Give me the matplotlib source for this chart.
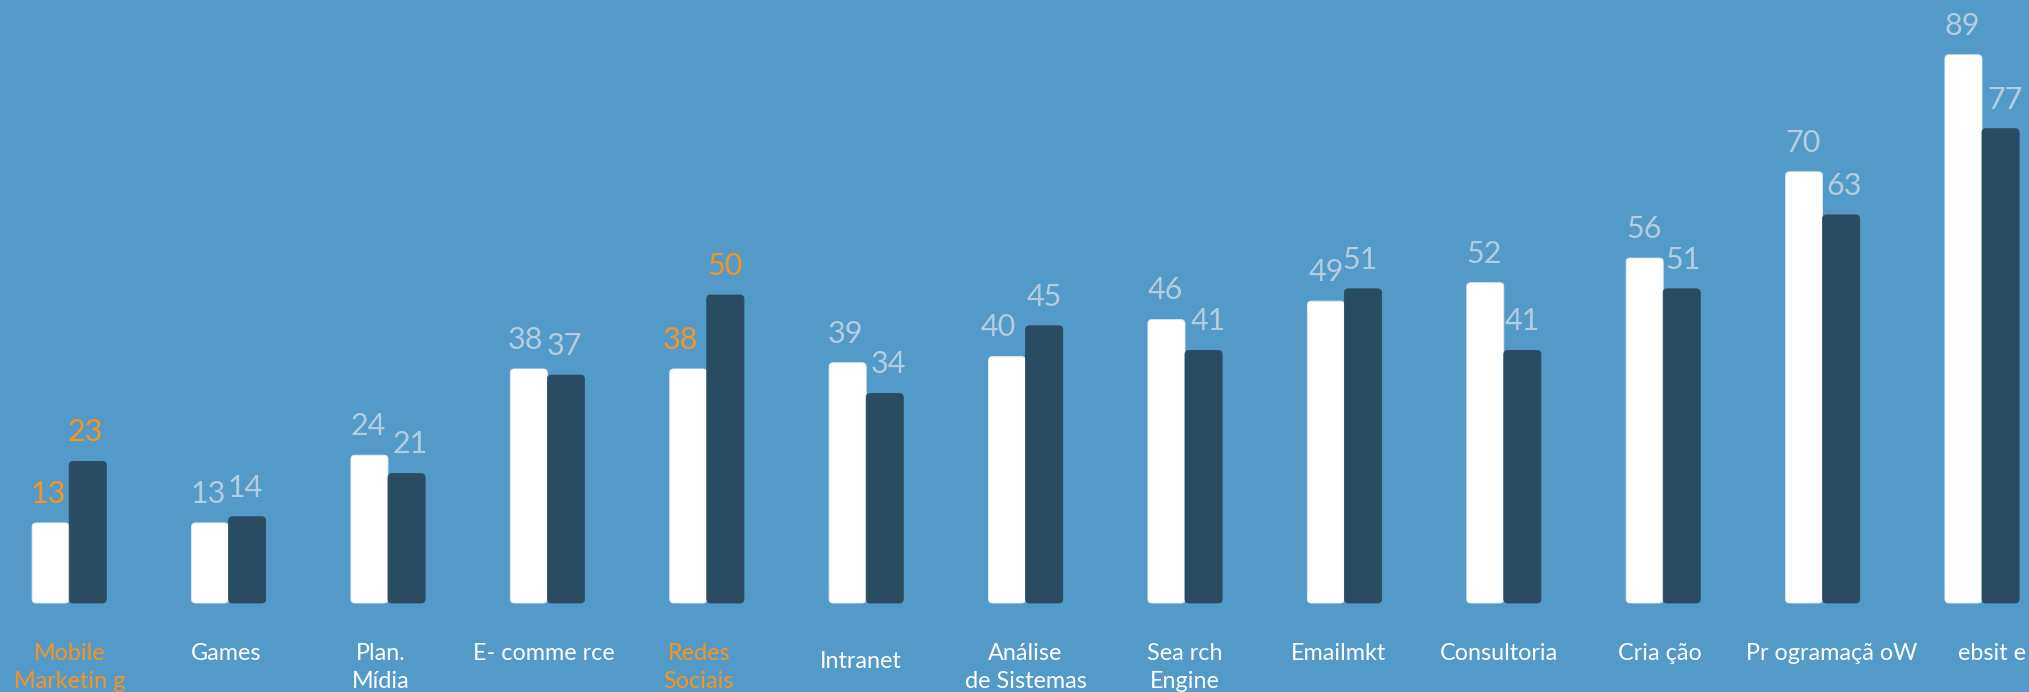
import matplotlib
matplotlib.use("Agg")
import matplotlib.pyplot as plt
from matplotlib.patches import FancyBboxPatch
import numpy as np

# ---- data ----
categories = ["Mobile\nMarketin g", "Games", "Plan.\nMídia", "E- comme rce", "Redes\nSociais",
              "Intranet", "Análise\nde Sistemas", "Sea rch\nEngine", "Emailmkt", "Consultoria",
              "Cria ção", "Pr ogramaçã oW", "ebsit e"]
series_white = [13, 13, 24, 38, 38, 39, 40, 46, 49, 52, 56, 70, 89]
series_dark = [23, 14, 21, 37, 50, 34, 45, 41, 51, 41, 51, 63, 77]
highlight = [True, False, False, False, True, False, False, False, False, False, False, False, False]

# ---- style ----
BG = "#539ac8"
WHITE = "#ffffff"
DARK = "#294c63"
VAL = "#b4cce0"
ORANGE = "#f7941d"
FONT = ["Lato", "DejaVu Sans"]

W, H = 2029, 692
fig = plt.figure(figsize=(W / 100, H / 100), dpi=100, facecolor=BG)
ax = fig.add_axes([0, 0, 1, 1])
ax.set_facecolor(BG)

px_group = 159.4
px_unit = 6.16
base_px = 603
x0_px = 69.2
ax.set_xlim(-x0_px / px_group, (W - x0_px) / px_group)
ax.set_ylim(-(H - base_px) / px_unit, base_px / px_unit)
ax.axis("off")

bw = 37.1 / px_group
x = np.arange(len(categories))
bars_w = ax.bar(x - bw / 2, series_white, width=bw, color=WHITE)
bars_d = ax.bar(x + bw / 2, series_dark, width=bw, color=DARK)

# replace plain rectangles with slightly rounded ones
radius_px = 4.0
aspect = px_group / px_unit
for bars, fc, ec in ((bars_w, WHITE, "#dfeaf3"), (bars_d, DARK, DARK)):
    for r in bars:
        bx, by, bwid, bh = r.get_x(), r.get_y(), r.get_width(), r.get_height()
        p = FancyBboxPatch((bx, by), bwid, bh,
                           boxstyle=f"round,pad=0,rounding_size={radius_px / px_group}",
                           mutation_aspect=aspect, facecolor=fc, edgecolor=ec, linewidth=0.6)
        ax.add_patch(p)
        r.set_visible(False)

# small horizontal nudges of value labels (pixels)
dx_white = [-2, -2, -1, -3, -8, -2, -9, -1, 0, -1, -1, -1, -1]
dx_dark = [-2, -2, 4, -2, 0, 4, 0, 5, -3, 0, 1, 3, 5]
for i in range(len(categories)):
    c = ORANGE if highlight[i] else VAL
    ax.annotate(str(series_white[i]), (x[i] - bw / 2, series_white[i]),
                xytext=(dx_white[i] * 0.72, 21), textcoords="offset points",
                ha="center", va="center", fontsize=22, color=c, family=FONT)
    ax.annotate(str(series_dark[i]), (x[i] + bw / 2, series_dark[i]),
                xytext=(dx_dark[i] * 0.72, 21), textcoords="offset points",
                ha="center", va="center", fontsize=22, color=c, family=FONT)

# category labels
dx_lab = [0, -2, -7, -4, -8, -5, 0, 0, -6, -5, -3, 9, 10]
line1_px = 654
line_gap_px = 28
for i, lab in enumerate(categories):
    c = ORANGE if highlight[i] else WHITE
    lines = lab.split("\n")
    y1 = line1_px + (8 if lab == "Intranet" else 0)
    for k, ln in enumerate(lines):
        ypx = y1 + k * line_gap_px
        ax.text(x[i] + dx_lab[i] / px_group, (base_px - ypx) / px_unit, ln,
                ha="center", va="center", fontsize=16.8, color=c, family=FONT)

fig.savefig("out.png", dpi=100, facecolor=BG)
